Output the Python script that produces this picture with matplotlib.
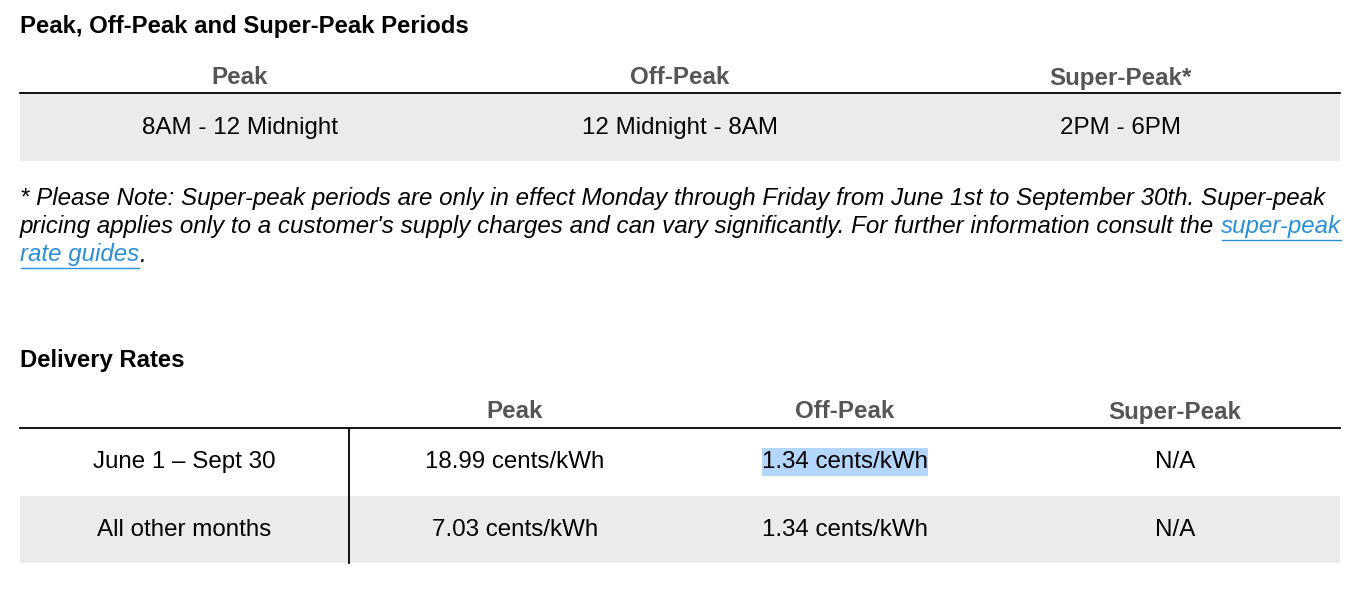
import matplotlib
matplotlib.use("Agg")
import matplotlib.pyplot as plt

W, H = 1358, 602
FONT = "Liberation Sans"
GRAY_BAND = "#ebebeb"
HEAD = "#555555"
LINK = "#2a8fd6"
HILITE = "#b4d5fc"

period_title = "Peak, Off-Peak and Super-Peak Periods"
period_headers = ["Peak", "Off-Peak", "Super-Peak*"]
period_values = ["8AM - 12 Midnight", "12 Midnight - 8AM", "2PM - 6PM"]
note_lines = [
    "* Please Note: Super-peak periods are only in effect Monday through Friday from June 1st to September 30th. Super-peak",
    "pricing applies only to a customer's supply charges and can vary significantly. For further information consult the ",
    "",
]
link_parts = ["super-peak", "rate guides"]
delivery_title = "Delivery Rates"
delivery_headers = ["", "Peak", "Off-Peak", "Super-Peak"]
delivery_rows = [
    ["June 1 \u2013 Sept 30", "18.99 cents/kWh", "1.34 cents/kWh", "N/A"],
    ["All other months", "7.03 cents/kWh", "1.34 cents/kWh", "N/A"],
]

fig = plt.figure(figsize=(W / 100, H / 100), dpi=100)
ax = fig.add_axes([0, 0, 1, 1])
ax.set_xlim(0, W)
ax.set_ylim(H, 0)
ax.axis("off")
FS = 17.4
TFS = 17.2

# periods table
ax.text(20, 26, period_title, fontsize=TFS, fontweight="bold", family=FONT, va="center")
for x, h in zip([240, 680, 1120], period_headers):
    ax.text(x, 78, h, fontsize=FS, fontweight="bold", color=HEAD, family=FONT, ha="center", va="center")
ax.fill_between([20, 1340], 94, 161, color=GRAY_BAND, lw=0)
ax.plot([20, 1340], [93, 93], color="black", lw=1.3)
for x, v in zip([240, 680, 1120], period_values):
    ax.text(x, 128, v, fontsize=FS, family=FONT, ha="center", va="center")

# note
fig.canvas.draw()
r = fig.canvas.get_renderer()
inv = ax.transData.inverted()


def put(x, y, s, color="black"):
    t = ax.text(x, y, s, fontsize=FS, style="italic", family=FONT, va="center", color=color)
    bb = t.get_window_extent(r)
    x1 = inv.transform((bb.x1, bb.y0))[0]
    return x1


ys = [199, 227, 255]
put(20, ys[0], note_lines[0])
x = put(20, ys[1], note_lines[1])
for xs, yy, s in [(x, ys[1], link_parts[0]), (20, ys[2], link_parts[1])]:
    xe = put(xs, yy, s, LINK)
    ax.plot([xs + 1, xe], [yy + 13, yy + 13], color=LINK, lw=1)
    last = xe
put(last, ys[2], ".")

# delivery table
ax.text(20, 360, delivery_title, fontsize=TFS, fontweight="bold", family=FONT, va="center")
cols = [184, 515, 845, 1175]
for x, h in zip(cols, delivery_headers):
    ax.text(x, 412, h, fontsize=FS, fontweight="bold", color=HEAD, family=FONT, ha="center", va="center")
ax.fill_between([20, 1340], 496, 563, color=GRAY_BAND, lw=0)
ax.plot([20, 1340], [428, 428], color="black", lw=1.3)
ax.plot([349, 349], [428, 563], color="black", lw=1.3)
ax.fill_between([762, 928], 448, 476, color=HILITE, lw=0)
for y, row in zip([462, 530], delivery_rows):
    for x, v in zip(cols, row):
        ax.text(x, y, v, fontsize=FS, family=FONT, ha="center", va="center")

fig.savefig("out.png", dpi=100, facecolor="white")
